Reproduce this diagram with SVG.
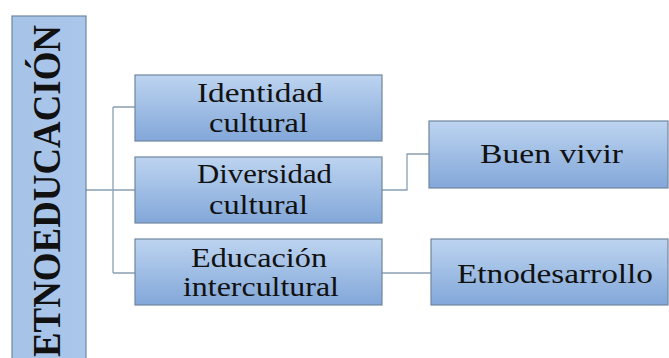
<svg xmlns="http://www.w3.org/2000/svg" width="669" height="358" viewBox="0 0 669 358">
<defs>
<linearGradient id="g" x1="0" y1="0" x2="0" y2="1">
<stop offset="0" stop-color="#bdd4f0"/>
<stop offset="1" stop-color="#82a7d9"/>
</linearGradient>
<linearGradient id="gm" x1="0" y1="0" x2="1" y2="0">
<stop offset="0" stop-color="#a6c3e8"/>
<stop offset="1" stop-color="#aac6ea"/>
</linearGradient>
<style>
.box{fill:url(#g);stroke:#6f859f;stroke-width:1.2}
.t{font-family:'Times New Roman','Liberation Serif',Times,serif;font-size:27px;fill:#111;text-anchor:middle}
.m{font-family:'Times New Roman','Liberation Serif',Times,serif;font-size:34px;font-weight:bold;fill:#111}
.c{fill:none;stroke:#8a9fb3;stroke-width:1.3}
</style>
</defs>
<rect width="669" height="358" fill="#fff"/>
<g id="connectors">
<path class="c" d="M86,190 H135 M113,107 V273 M113,107 H135 M113,273 H135"/>
<path class="c" d="M382,190 H407 V154 H429"/>
<path class="c" d="M382,273 H431"/>
</g>
<g id="etnoeducacion">
<rect x="12" y="16" width="74" height="360" fill="url(#gm)" stroke="#6f859f" stroke-width="1.2"/>
<text class="m" transform="translate(60,357) rotate(-90) scale(1,1.17)" x="0" y="0" textLength="332" lengthAdjust="spacingAndGlyphs">ETNOEDUCACIÓN</text>
</g>
<g id="identidad">
<rect class="box" x="135" y="75" width="247" height="66"/>
<text class="t" x="260" y="102" textLength="126" lengthAdjust="spacingAndGlyphs">Identidad</text>
<text class="t" x="258.5" y="132" textLength="99" lengthAdjust="spacingAndGlyphs">cultural</text>
</g>
<g id="diversidad">
<rect class="box" x="135" y="157" width="247" height="66"/>
<text class="t" x="264.5" y="183" textLength="135" lengthAdjust="spacingAndGlyphs">Diversidad</text>
<text class="t" x="258.5" y="214" textLength="99" lengthAdjust="spacingAndGlyphs">cultural</text>
</g>
<g id="educacion">
<rect class="box" x="135" y="239" width="247" height="66"/>
<text class="t" x="259" y="267" textLength="136" lengthAdjust="spacingAndGlyphs">Educación</text>
<text class="t" x="261" y="296" textLength="156" lengthAdjust="spacingAndGlyphs">intercultural</text>
</g>
<g id="buenvivir">
<rect class="box" x="429" y="121" width="239" height="67"/>
<text class="t" x="551.5" y="163" textLength="143" lengthAdjust="spacingAndGlyphs">Buen vivir</text>
</g>
<g id="etnodesarrollo">
<rect class="box" x="431" y="239" width="237" height="66"/>
<text class="t" x="555" y="283" textLength="196" lengthAdjust="spacingAndGlyphs">Etnodesarrollo</text>
</g>
</svg>
